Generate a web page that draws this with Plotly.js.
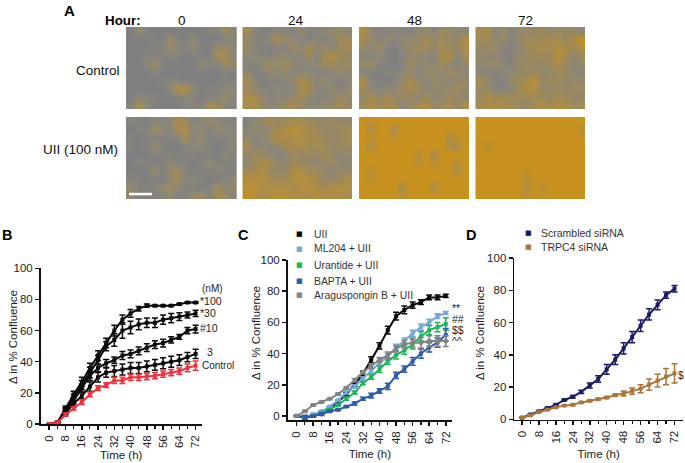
<!DOCTYPE html>
<html><head><meta charset="utf-8">
<script src="https://cdn.plot.ly/plotly-3.0.1.min.js"></script>
<style>html,body{margin:0;padding:0;background:#fff}#c{width:685px;height:463px}</style>
</head><body><div id="c"></div>
<script>
// ---------- Panel A: estimated orange coverage (0-9), coarse 14 x 10 grid read from each micrograph
const ctrl0  = ["03100000001142","00010410300012","00011321300432","00111110010552","00241000031143","00010000000010","00001110000011","00000266301122","02110012101132","15300001215421"];
const ctrl24 = ["52012113112332","31135321121154","41101142523245","22113212415643","11343431224434","30132312211232","52011236323112","43112125512313","65312235211243","56322453223353"];
const ctrl48 = ["62112112314322","53132233534336","32410234435436","21210133215615","34110142325213","11021231332432","61001353233233","42122454232343","35353332423432","46455235634536"];
const ctrl72 = ["55231333424332","45241344555368","33411245556647","32211334437524","23321343346323","21122334334422","53113457344333","43112466334344","36454444435433","55655435656645"];
const uii0   = ["11021254123211","01143156221321","10111115130112","10131001221012","00010101101021","01101211013111","00040341011210","11010251210012","31113421101423","31111311341541"];
const uii24  = ["12353455433433","13235676543345","31246566554335","52213556454344","34421243435323","24553243323422","45633366443233","76654467653346","77666656755666","87567766576665"];
const uii48  = ["98999999999999","95995999999999","98998999999689","95999999999659","99999997959999","99999997979979","97999999999959","97999999999999","99999599959999","99999799999999"];
const uii72  = ["99999999999999","99999999999997","99999999999999","97999999999999","99999999999999","99999999999999","99999989999999","99999979999999","99999969799999","99999979899999"];

// ---------- Panels B-D
const hours = [0,4,8,12,16,20,24,28,32,36,40,44,48,52,56,60,64,68,72];
const hourTicks = [0,8,16,24,32,40,48,56,64,72];

const b100 = [0,1,10,19,27,36,44,52,60,67,71,74,76,76,76,76,77,78,78];
const b30  = [0,1,9,17,25,33,41,50,54,60,62,64,65,65,67,68,69,70,71];
const b10  = [0,1,8,15,23,31,36,39,41,44,45,47,49,51,52,54,56,60,61];
const b3   = [0,1,7,13,18,24,30,33,34,35,36,36,37,38,39,40,41,43,45];
const bCtl = [0,1,6,10,14,19,23,25,28,28,30,30,30.5,31,32,33,34,36,37.5];
const b100E = [0,.5,1.5,2,3,3,3,3,3.5,3,2.5,1.5,1,.5,.5,.5,.5,.5,.5];
const b30E  = [0,.5,1.5,2,3,3.5,3,3,4,5,4,3.5,3,3,3,3,2.5,2,2];
const b10E  = [0,.5,1.5,2,2.5,3,2.5,2.5,2,2.5,2.5,2.5,2.5,2.5,2.5,2,1.5,2,2.5];
const b3E   = [0,.5,1,2,2,3,3,3,3.5,3.5,3.5,3.5,3.5,3.5,3.5,3.5,3.5,3,3];
const bCtlE = [0,.5,1,1,1.5,1.5,1.5,1.5,2,2,2,2,2,2,2,2,2,2.5,3];

const cUii  = [0,-1,0,2,5,9,14,20,27,36,45,55,64,68,71,73,76,76,77];
const cMl   = [0,-1,1,3,6,10,15,19,24,29,34,38,44,48,53,57,60,64,66];
const cUra  = [0,-1,0,2,4,7,11,15,21,25,30,35,39,42,46,51,55,57,59];
const cBap  = [0,-1,0,1,3,4,6,8,11,13,16,19,26,30,35,40,44,47,52];
const cAra  = [0,3,7,9,11,14,18,23,28,32,36,39,43,46,47,47,48,48,48];
const cUiiE = [0,1,.5,.5,.5,.5,1,1,1.5,2,2,2.5,2.5,2.5,2,1.5,1.5,1.5,1];
const cMlE  = [0,1,.5,.5,.5,.5,1,1,1,1.5,1.5,2,2,2,2,2,2,1.5,1];
const cUraE = [0,1,.5,.5,.5,.5,1,1,1,1.5,2,2,2.5,2.5,3,3,3,3,4];
const cBapE = [0,1.5,.5,.5,.5,.5,.5,1,1,1.5,1.5,2,2,2,2.5,3,3,3,4];
const cAraE = [0,.5,.5,.5,.5,.5,.5,1,1,1.5,1.5,2,2,2.5,3,3.5,3.5,3.5,3.5];

const dScr = [1,3,5,7,9,12,14,17,21,25,31,37,44,51,58,65,71,77,81];
const dTrp = [1,2.5,4.5,6,7.5,8.5,9,10.5,11.5,12.5,13.5,15,16,17.5,19,21.5,24,26.5,28.5];
const dScrE = [.3,.3,.3,.4,.5,.5,.7,1,1.5,2,3,3,3.5,3.5,3.5,3.5,3,2,2];
const dTrpE = [.3,.3,.3,.3,.3,.3,.4,.4,.5,.5,.6,.7,1.5,2,2.5,3.5,4,5,6];

const FONT = "Liberation Sans, Arial, sans-serif";
const TXT = "#1c1c1c";
const W = 685, H = 463;
const dx = (a,b)=>[a/W,b/W];
const dy = (t,b)=>[1-b/H,1-t/H];

// ---------- micrograph panels
const grids = [
  [ctrl0,126,236.7,27,109],[ctrl24,242.3,352,27,109],[ctrl48,359,469,27,109],[ctrl72,475.3,585,27,109],
  [uii0,126,236.7,117,199],[uii24,242.3,352,117,199],[uii48,359,469,117,199],[uii72,475.3,585,117,199]
];
const data = [], layout = {
  width:W, height:H, autosize:false, showlegend:false,
  margin:{l:0,r:0,t:0,b:0}, paper_bgcolor:"#fff", plot_bgcolor:"rgba(0,0,0,0)",
  font:{family:FONT,size:11.5,color:TXT}, annotations:[], shapes:[]
};
grids.forEach((g,i)=>{
  const n = i+1, sfx = n===1?"":n;
  data.push({type:"heatmap", z:g[0].map(r=>r.split("").map(Number)), xaxis:"x"+sfx, yaxis:"y"+sfx,
    zmin:0, zmax:9, zsmooth:"best", showscale:false, hoverinfo:"skip",
    colorscale:[[0,"#808082"],[0.2,"#8a8678"],[1,"#c9921f"]]});
  layout["xaxis"+sfx] = {domain:dx(g[1],g[2]), visible:false, anchor:"y"+sfx, fixedrange:true};
  layout["yaxis"+sfx] = {domain:dy(g[3],g[4]), visible:false, anchor:"x"+sfx, autorange:"reversed", fixedrange:true};
});

// ---------- line panels
function series(y,e,color,axis){
  data.push({type:"scatter", mode:"lines+markers", x:hours, y:y, xaxis:"x"+axis, yaxis:"y"+axis,
    cliponaxis:false, hoverinfo:"skip",
    line:{color:color,width:2}, marker:{symbol:"square",size:4,color:color},
    error_y:{type:"data",array:e,visible:true,color:color,thickness:1.5,width:3}});
}
function axes(n,xPx,yPx,xr,yr,standoff){
  const base = {showgrid:false, zeroline:false, showline:true, linecolor:"#111", linewidth:1.7,
    ticks:"outside", tickcolor:"#111", tickwidth:1.5, ticklen:4, fixedrange:true,
    tickfont:{family:FONT,size:11.5,color:TXT}};
  layout["xaxis"+n] = Object.assign({},base,{domain:dx(xPx[0],xPx[1]), range:xr, anchor:"y"+n,
    tickmode:"array", tickvals:hourTicks, ticktext:hourTicks.map(String), tickangle:-90, ticklabelstandoff:1,
    minor:{tickmode:"array",tickvals:hours,ticks:"outside",ticklen:3,tickwidth:1.2,tickcolor:"#111"},
    title:{text:"Time (h)",standoff:standoff,font:{family:FONT,size:11.5,color:TXT}}});
  layout["yaxis"+n] = Object.assign({},base,{domain:dy(yPx[0],yPx[1]), range:yr, anchor:"x"+n,
    tickmode:"array", tickvals:[0,20,40,60,80,100]});
}
axes(9,[40.7,201.7],[268.3,424],[-4.2,75],[0,100],4);
axes(10,[287.7,452],[260,420],[-4.3,75],[-2.6,100],7);
axes(11,[514.3,683],[258,419.5],[-3.6,76],[-0.1,100],7);

[[b100,b100E,"#0a0a0a"],[b30,b30E,"#0a0a0a"],[b10,b10E,"#0a0a0a"],[b3,b3E,"#0a0a0a"],[bCtl,bCtlE,"#ee3340"]]
  .forEach(s=>series(s[0],s[1],s[2],9));
const cCols = {uii:"#0a0a0a",ml:"#74a9d8",ura:"#1eb45a",bap:"#2f5aa8",ara:"#828282"};
[[cUii,cUiiE,cCols.uii],[cMl,cMlE,cCols.ml],[cUra,cUraE,cCols.ura],[cBap,cBapE,cCols.bap],[cAra,cAraE,cCols.ara]]
  .forEach(s=>series(s[0],s[1],s[2],10));
const dCols = {scr:"#1b1a64",trp:"#a8763a"};
series(dScr,dScrE,dCols.scr,11);
series(dTrp,dTrpE,dCols.trp,11);

// ---------- text
function note(x,y,text,o={}){
  layout.annotations.push(Object.assign({xref:"paper",yref:"paper",x:x/W,y:1-y/H,text:text,showarrow:false,
    xanchor:"left",yanchor:"middle",xshift:0,yshift:0,borderpad:0,
    font:{family:FONT,size:10.5,color:TXT}},o));
}
const bold = {font:{family:FONT,size:14.5,color:"#000"}};
note(63,10,"<b>A</b>",{font:{family:FONT,size:15,color:"#000"}});
note(1,235,"<b>B</b>",bold); note(237,235,"<b>C</b>",bold); note(465,235,"<b>D</b>",bold);
note(104,20,"<b>Hour:</b>",{font:{family:FONT,size:13.4,color:"#000"}});
const head = {family:FONT,size:13.5,color:"#111"};
[["0",181.7],["24",296],["48",414],["72",525.7]].forEach(t=>note(t[1],20,t[0],{xanchor:"center",font:head}));
note(121,70,"Control",{xanchor:"right",font:head});
note(118.5,149,"UII (100 nM)",{xanchor:"right",font:head});

const yTitle = {textangle:-90,xanchor:"center",font:{family:FONT,size:11.5,color:TXT}};
note(13,337,"Δ in % Confluence",yTitle);
note(256,333,"Δ in % Confluence",yTitle);
note(480,333,"Δ in % Confluence",yTitle);

note(212,288,"(nM)",{xanchor:"center",font:{family:FONT,size:10,color:TXT}});
note(199,300.5,"*100"); note(199,313,"*30"); note(199,328,"#10");
note(206,352,"3"); note(201,365,"Control",{font:{family:FONT,size:10,color:TXT}});
note(451,308,"**"); note(451,319,"##"); note(451,330,"$$"); note(451,341,"^^");
note(681,375,"$",{xanchor:"center",font:{family:FONT,size:10,color:TXT}});

const key = (x,y,c)=>note(x,y,"■",{xanchor:"center",font:{family:"DejaVu Sans",size:7,color:c}});
[["UII",cCols.uii,234],["ML204 + UII",cCols.ml,249],["Urantide + UII",cCols.ura,265],["BAPTA + UII",cCols.bap,281],["Araguspongin B + UII",cCols.ara,295]]
  .forEach(l=>{key(299.7,l[2],l[1]); note(313,l[2],l[0],{font:{family:FONT,size:10.4,color:"#333"}});});
[["Scrambled siRNA",dCols.scr,233],["TRPC4 siRNA",dCols.trp,247]]
  .forEach(l=>{key(528,l[2],l[1]); note(540,l[2],l[0],{font:{family:FONT,size:10.5,color:"#333"}});});

// scale bar in the UII 0 h micrograph
layout.shapes.push({type:"rect",xref:"paper",yref:"paper",x0:129/W,x1:152/W,y0:1-195.3/H,y1:1-192.8/H,fillcolor:"#fff",line:{width:0}});

Plotly.newPlot("c",data,layout,{staticPlot:true,displayModeBar:false});
</script></body></html>
